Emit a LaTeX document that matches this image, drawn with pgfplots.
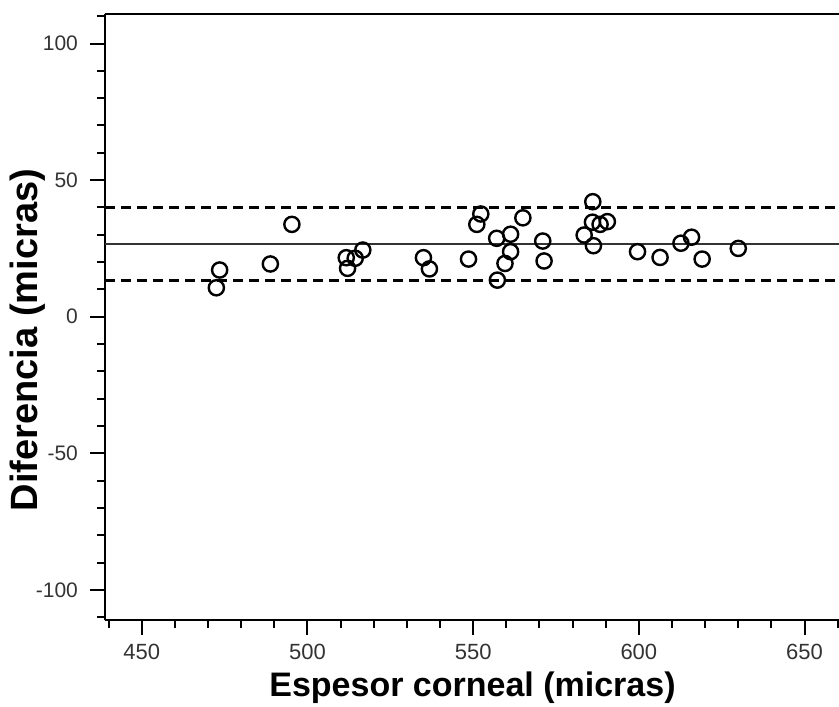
\documentclass[border=0pt]{standalone}
\usepackage{fontspec}
\setmainfont{Liberation Sans}
\usepackage{pgfplots}
\pgfplotsset{compat=1.18}

\begin{document}
\begin{tikzpicture}
\begin{axis}[
  scale only axis,
  width=367pt, height=303pt,
  xmin=438.9, xmax=660.4, ymin=-111, ymax=110.8,
  axis x line*=bottom, axis y line*=left,
  axis line style={line width=1pt, -},
  tick align=outside,
  xtick={450,500,...,650}, ytick={-100,-50,...,100},
  minor xtick={440,450,...,660}, minor ytick={-110,-100,...,110},
  major tick length=7.5pt, minor tick length=4pt,
  every tick/.style={black, line width=1pt},
  /pgf/number format/assume math mode=true,
  xticklabel style={font=\fontsize{11}{13}\selectfont, text=black!80, yshift=-1pt},
  yticklabel style={font=\fontsize{10.5}{12}\selectfont, text=black!80, xshift=-2.5pt},
  xlabel={\bfseries Espesor corneal (micras)},
  ylabel={\bfseries Diferencia (micras)},
  xlabel style={font=\fontsize{17}{20}\selectfont, at={(axis description cs:0.5007,-0.112)}, anchor=center},
  ylabel style={font=\fontsize{19}{22}\selectfont, at={(axis description cs:-0.105,0.462)}, anchor=center},
]
\draw[line width=1pt] (rel axis cs:0,1) -- (rel axis cs:1,1);
% limits of agreement and mean
\addplot[black, line width=1.5pt, dash pattern=on 5pt off 3pt] coordinates {(438.9,39.9) (660.4,39.9)};
\addplot[black, line width=1.5pt, dash pattern=on 5pt off 3pt] coordinates {(438.9,13.1) (660.4,13.1)};
\addplot[black!80, line width=0.9pt] coordinates {(438.9,26.5) (660.4,26.5)};
\addplot[only marks, mark=o, mark size=3.8pt, mark options={line width=1.2pt, black}] table {
x y
472.5 10.6
473.5 17.1
488.8 19.3
495.3 33.8
511.7 21.6
512.1 17.7
514.4 21.4
516.7 24.4
535.0 21.6
536.8 17.5
548.6 21.1
551.1 33.8
552.3 37.6
557.1 28.7
557.3 13.4
559.6 19.5
561.3 30.2
561.3 23.8
565.0 36.2
571.0 27.7
571.4 20.4
583.5 29.9
586.1 42.1
586.0 34.6
586.3 26.0
588.3 33.8
590.5 34.8
599.6 23.8
606.4 21.7
612.7 26.9
615.9 29.1
619.1 21.1
630.0 25.0
};
\end{axis}
\pgfresetboundingbox
\path[use as bounding box] (-52.5pt,-43pt) rectangle (367pt,310pt);
\end{tikzpicture}
\end{document}
